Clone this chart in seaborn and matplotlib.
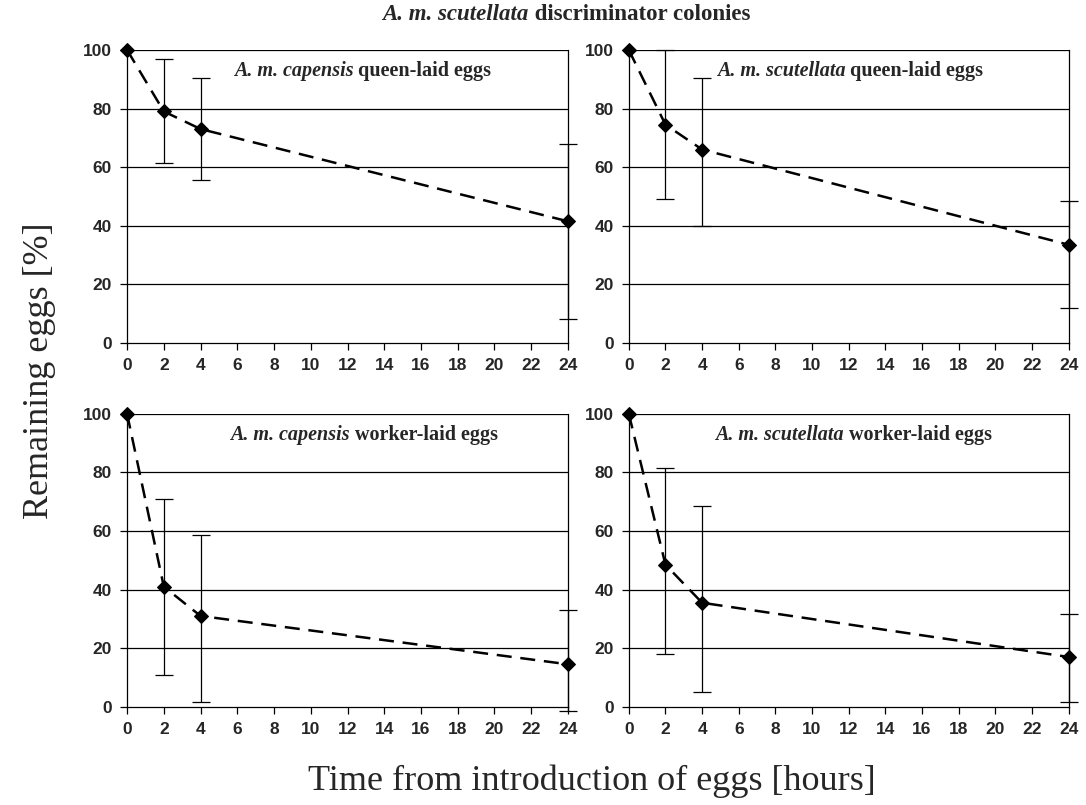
import numpy as np
import pandas as pd
import matplotlib
matplotlib.use("Agg")
import matplotlib.pyplot as plt
import seaborn as sns

# === DATA ===
hours = [0, 2, 4, 24]

species = ["A. m. capensis", "A. m. scutellata", "A. m. capensis", "A. m. scutellata"]
egg_type = ["queen-laid eggs", "queen-laid eggs", "worker-laid eggs", "worker-laid eggs"]

cap_queen_mean = [100, 79, 73, 41.5]
cap_queen_hi = [100, 97, 90.5, 68]
cap_queen_lo = [100, 61.5, 55.5, 8]

scu_queen_mean = [100, 74.5, 66, 33.5]
scu_queen_hi = [100, 100, 90.5, 48.5]
scu_queen_lo = [100, 49, 40, 12]

cap_worker_mean = [100, 41, 31, 14.5]
cap_worker_hi = [100, 71, 58.5, 33]
cap_worker_lo = [100, 11, 1.5, -1.5]

scu_worker_mean = [100, 48.5, 35.5, 17]
scu_worker_hi = [100, 81.5, 68.5, 31.5]
scu_worker_lo = [100, 18, 5, 1.5]

x_ticks = list(range(0, 25, 2))
y_ticks = [0, 20, 40, 60, 80, 100]

means = [cap_queen_mean, scu_queen_mean, cap_worker_mean, scu_worker_mean]
highs = [cap_queen_hi, scu_queen_hi, cap_worker_hi, scu_worker_hi]
lows = [cap_queen_lo, scu_queen_lo, cap_worker_lo, scu_worker_lo]

# === STYLE ===
sns.set_style("white")
plt.rcParams["font.family"] = ["Liberation Sans Narrow", "Liberation Sans", "DejaVu Sans"]
serif = ["Liberation Serif", "DejaVu Serif"]

fig = plt.figure(figsize=(10.86, 8.05), dpi=100)
# axes placed to match the original panel layout
boxes = [
    [0.117, 0.574, 0.406, 0.364],
    [0.579, 0.574, 0.405, 0.364],
    [0.117, 0.122, 0.406, 0.364],
    [0.579, 0.122, 0.405, 0.364],
]
text_x = [5.8, 4.8, 5.6, 4.7]

for i, box in enumerate(boxes):
    ax = fig.add_axes(box)
    df = pd.DataFrame({"Time": hours, "Remaining": means[i]})

    # error bars (none at time 0)
    m = np.array(means[i][1:])
    err = [m - np.array(lows[i][1:]), np.array(highs[i][1:]) - m]
    ax.errorbar(hours[1:], m, yerr=err, fmt="none", ecolor="black",
                elinewidth=0.9, capsize=6.5, capthick=0.9, clip_on=False, zorder=3)

    sns.lineplot(data=df, x="Time", y="Remaining", ax=ax, color="black",
                 linestyle=(0, (6, 3.5)), linewidth=1.8, marker="D", markersize=7.5,
                 markeredgecolor="black", clip_on=False, zorder=4)

    ax.set_xlim(0, 24)
    ax.set_ylim(0, 100)
    ax.set_xticks(x_ticks)
    ax.set_yticks(y_ticks)
    for y in y_ticks[1:]:
        ax.axhline(y, color="black", linewidth=0.9, zorder=1)
    for side in ["left", "right", "bottom"]:
        ax.spines[side].set_color("black")
        ax.spines[side].set_linewidth(0.9)
    ax.spines["top"].set_visible(False)
    ax.tick_params(axis="both", direction="out", length=5, width=0.9,
                   color="black", labelsize=12.5, pad=6, bottom=True, left=True)
    for lab in ax.get_xticklabels() + ax.get_yticklabels():
        lab.set_fontweight("bold")
    ax.set_xlabel("")
    ax.set_ylabel("")

    # panel caption: italic species name + plain egg type
    t1 = ax.text(text_x[i], 89.5, species[i], fontsize=14.5, family=serif,
                 style="italic", fontweight="bold", ha="left", va="bottom")
    ax.annotate(" " + egg_type[i], xy=(1, 0), xycoords=t1, fontsize=14.5,
                family=serif, fontweight="bold", ha="left", va="bottom")

# figure title
fig.text(0.487, 0.982, "A. m. scutellata", fontsize=16.5, family=serif,
         style="italic", fontweight="bold", ha="right", va="center")
fig.text(0.487, 0.982, " discriminator colonies", fontsize=16.5, family=serif,
         fontweight="bold", ha="left", va="center")

fig.text(0.036, 0.54, "Remaining eggs [%]", fontsize=26, family=serif,
         rotation=90, ha="center", va="center")
fig.text(0.545, 0.03, "Time from introduction of eggs [hours]", fontsize=26,
         family=serif, ha="center", va="center")

fig.savefig("out.png", dpi=100)
